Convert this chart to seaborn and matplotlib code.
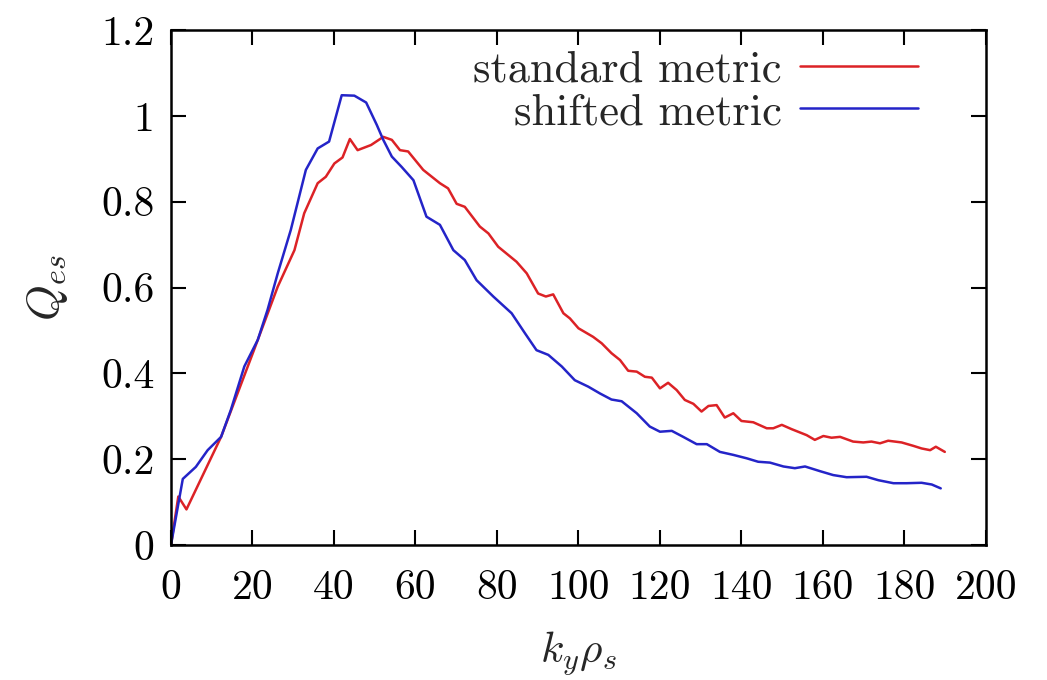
import numpy as np
import pandas as pd
import matplotlib
matplotlib.use("Agg")
import matplotlib.pyplot as plt
import seaborn as sns

# Standard metric: electrostatic heat flux spectrum
ky_standard = [0, 1.8, 3.8, 12.3, 20.4, 26.2, 30.3, 32.7, 36.0, 38.0, 40.1, 42.1, 43.9,
               45.8, 49.1, 52.1, 54.2, 56.2, 58.2, 61.9, 66.0, 68.0, 70.1, 72.1, 75.8,
               77.9, 80.3, 84.8, 87.3, 90.1, 92.0, 93.8, 96.3, 97.9, 100.0, 103.6, 105.7,
               108.1, 110.2, 112.2, 114.3, 116.3, 118.0, 120.0, 122.0, 124.1, 126.1,
               128.2, 130.2, 131.9, 133.9, 135.9, 138.0, 140.0, 142.9, 146.2, 147.8,
               149.9, 152.3, 156.0, 158.0, 160.1, 162.1, 164.2, 167.4, 169.9, 171.9,
               174.0, 176.0, 179.3, 182.2, 184.2, 186.3, 187.7, 189.9]
q_standard = [0, 0.113, 0.083, 0.252, 0.455, 0.602, 0.687, 0.773, 0.843, 0.858, 0.889,
              0.903, 0.946, 0.920, 0.932, 0.951, 0.944, 0.920, 0.917, 0.874, 0.843,
              0.831, 0.795, 0.788, 0.742, 0.726, 0.695, 0.660, 0.633, 0.586, 0.579,
              0.584, 0.540, 0.528, 0.505, 0.485, 0.470, 0.447, 0.431, 0.406, 0.404,
              0.392, 0.390, 0.365, 0.378, 0.361, 0.338, 0.329, 0.311, 0.324, 0.326,
              0.297, 0.307, 0.289, 0.286, 0.272, 0.272, 0.280, 0.270, 0.256, 0.245,
              0.254, 0.250, 0.252, 0.241, 0.239, 0.241, 0.237, 0.243, 0.239, 0.231,
              0.225, 0.221, 0.229, 0.217]

# Shifted metric
ky_shifted = [0, 2.9, 6.1, 9.0, 12.3, 14.7, 18.0, 21.3, 23.7, 26.2, 29.4, 33.1, 36.0,
              38.8, 41.9, 45.0, 47.9, 50.5, 52.1, 54.2, 56.6, 59.5, 62.7, 66.0, 69.3,
              72.1, 75.0, 79.1, 83.6, 86.9, 89.7, 92.6, 95.9, 99.1, 102.4, 105.3, 108.1,
              110.6, 114.3, 117.5, 120.0, 122.9, 125.7, 129.0, 131.5, 134.7, 138.0,
              141.3, 144.1, 147.0, 150.3, 153.1, 155.6, 159.3, 162.5, 165.8, 170.7,
              173.6, 177.3, 180.5, 184.2, 186.7, 188.9]
q_shifted = [0, 0.154, 0.182, 0.221, 0.252, 0.315, 0.416, 0.478, 0.548, 0.633, 0.734,
             0.874, 0.924, 0.940, 1.048, 1.047, 1.031, 0.979, 0.944, 0.905, 0.881, 0.850,
             0.765, 0.746, 0.687, 0.664, 0.617, 0.579, 0.540, 0.493, 0.454, 0.443,
             0.416, 0.384, 0.369, 0.353, 0.339, 0.335, 0.307, 0.276, 0.264, 0.266,
             0.252, 0.235, 0.235, 0.217, 0.210, 0.202, 0.194, 0.192, 0.183, 0.179,
             0.183, 0.172, 0.163, 0.158, 0.159, 0.151, 0.144, 0.144, 0.145, 0.141,
             0.132]

series_names = ["standard metric", "shifted metric"]
series_colors = ["#dc2226", "#2424c8"]

x_ticks = [0, 20, 40, 60, 80, 100, 120, 140, 160, 180, 200]
y_ticks = [0, 0.2, 0.4, 0.6, 0.8, 1.0, 1.2]
y_tick_labels = ["0", "0.2", "0.4", "0.6", "0.8", "1", "1.2"]

df = pd.concat([
    pd.DataFrame({"ky": ky_standard, "Q": q_standard, "metric": series_names[0]}),
    pd.DataFrame({"ky": ky_shifted, "Q": q_shifted, "metric": series_names[1]}),
], ignore_index=True)

sns.set_theme(style="ticks")
plt.rcParams["font.family"] = ["cmr10", "DejaVu Serif"]
plt.rcParams["mathtext.fontset"] = "cm"
plt.rcParams["axes.unicode_minus"] = False

fig = plt.figure(figsize=(10.47, 6.8), dpi=100)
ax = fig.add_axes([0.1633, 0.1985, 0.7784, 0.7574])

sns.lineplot(data=df, x="ky", y="Q", hue="metric", hue_order=series_names,
             palette=series_colors, estimator=None, sort=False, linewidth=1.8,
             ax=ax, legend=False)

ax.set_xlim(0, 200)
ax.set_ylim(0, 1.2)
ax.set_xticks(x_ticks)
ax.set_xticklabels([str(t) for t in x_ticks])
ax.set_yticks(y_ticks)
ax.set_yticklabels(y_tick_labels)

for side in ["left", "right", "top", "bottom"]:
    ax.spines[side].set_visible(True)
    ax.spines[side].set_color("black")
    ax.spines[side].set_linewidth(1.8)

ax.tick_params(axis="both", which="major", direction="in", length=11, width=1.5,
               colors="black", labelsize=30, top=True, right=True, pad=12)
ax.tick_params(axis="x", pad=18)

ax.set_xlabel(r"$k_y\rho_s$", fontsize=31, labelpad=16)
ax.set_ylabel(r"$Q_{es}$", fontsize=33, labelpad=22)

handles = [plt.Line2D([], [], color=c, linewidth=1.8) for c in series_colors]
ax.legend(handles, series_names, loc="upper right", frameon=False, markerfirst=False,
          fontsize=32, handlelength=2.65, handletextpad=0.4, labelspacing=0.05,
          borderpad=0, borderaxespad=0, bbox_to_anchor=(0.916, 0.96))

fig.savefig("out.png", dpi=100, facecolor="white")
